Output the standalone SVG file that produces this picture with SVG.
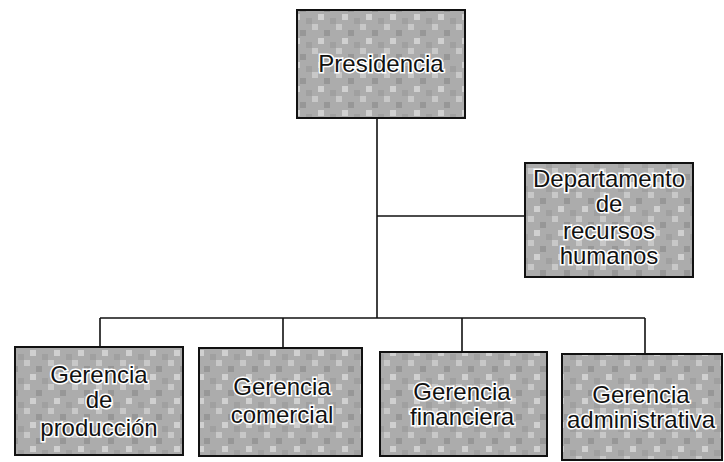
<svg xmlns="http://www.w3.org/2000/svg" width="724" height="462" viewBox="0 0 724 462">
<defs>
<pattern id="mottle" width="24" height="24" patternUnits="userSpaceOnUse">
<rect width="24" height="24" fill="#acacac"/>
<rect x="0" y="0" width="6" height="6" fill="#c8c8c8"/>
<rect x="12" y="6" width="6" height="6" fill="#979797"/>
<rect x="6" y="14" width="6" height="6" fill="#d0d0d0"/>
<rect x="18" y="18" width="6" height="6" fill="#a0a0a0"/>
</pattern>
</defs>
<style>
.box{fill:url(#mottle);stroke:#111;stroke-width:2}
.lbl{font-family:"Liberation Sans",Arial,sans-serif;font-size:24px;fill:#111;stroke:#fff;stroke-width:3;paint-order:stroke;text-anchor:middle}
.ln{stroke:#111;stroke-width:1.6;fill:none}
</style>
<rect width="724" height="462" fill="#fff"/>
<g id="connectors">
<path class="ln" d="M377 118 V318"/>
<path class="ln" d="M377 216 H525"/>
<path class="ln" d="M100 318 H645"/>
<path class="ln" d="M100 318 V347"/>
<path class="ln" d="M283 318 V348"/>
<path class="ln" d="M462 318 V352"/>
<path class="ln" d="M645 318 V354"/>
</g>
<g id="presidencia">
<rect class="box" x="297" y="10" width="168" height="108"/>
<text class="lbl" x="381" y="72">Presidencia</text>
</g>
<g id="rrhh">
<rect class="box" x="525" y="163" width="168" height="114"/>
<text class="lbl" x="609" y="187">Departamento</text>
<text class="lbl" x="609" y="212">de</text>
<text class="lbl" x="609" y="239">recursos</text>
<text class="lbl" x="609" y="264">humanos</text>
</g>
<g id="produccion">
<rect class="box" x="15" y="347" width="168" height="108"/>
<text class="lbl" x="99" y="383">Gerencia</text>
<text class="lbl" x="99" y="408">de</text>
<text class="lbl" x="99" y="436">producción</text>
</g>
<g id="comercial">
<rect class="box" x="199" y="348" width="163" height="108"/>
<text class="lbl" x="282" y="395">Gerencia</text>
<text class="lbl" x="282" y="423">comercial</text>
</g>
<g id="financiera">
<rect class="box" x="380" y="352" width="167" height="104"/>
<text class="lbl" x="462" y="400">Gerencia</text>
<text class="lbl" x="462" y="425">financiera</text>
</g>
<g id="administrativa">
<rect class="box" x="562" y="354" width="160" height="106"/>
<text class="lbl" x="641" y="403">Gerencia</text>
<text class="lbl" x="641" y="428">administrativa</text>
</g>
</svg>
